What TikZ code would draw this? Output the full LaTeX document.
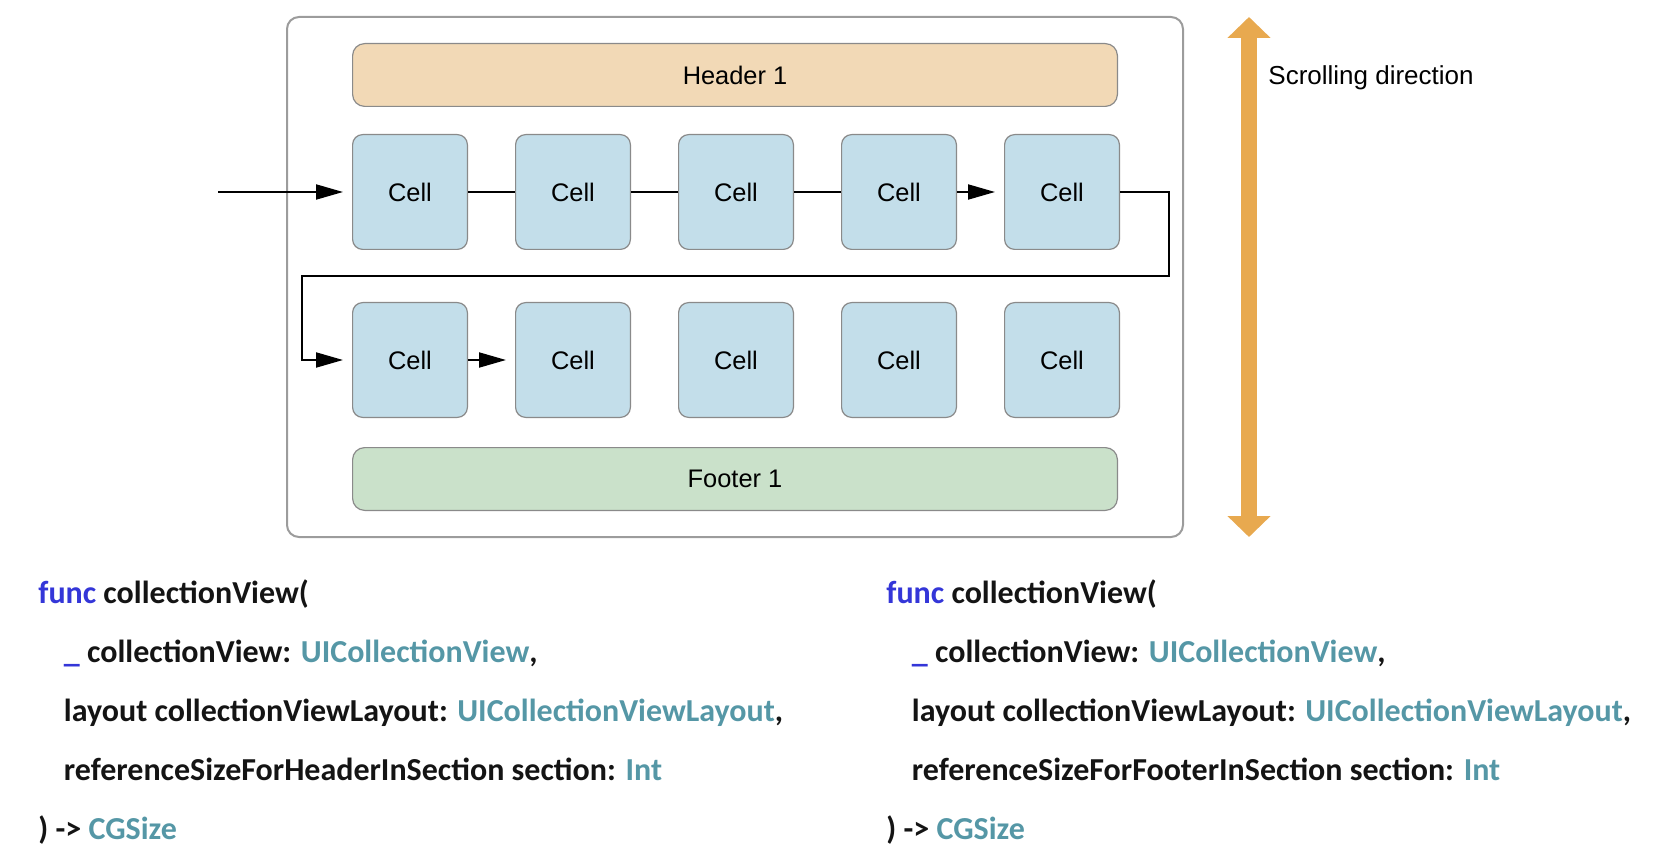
\documentclass[tikz,border=0pt]{standalone}
\usepackage{fontspec}
\setmainfont{Liberation Sans}
\newfontfamily\codefont{Carlito}
\usepackage{xcolor}
\usetikzlibrary{positioning,arrows.meta,calc,fit}

\definecolor{headerfill}{HTML}{F2D9B6}
\definecolor{cellfill}{HTML}{C3DEEA}
\definecolor{footerfill}{HTML}{CAE1CA}
\definecolor{boxline}{HTML}{8A8A8A}
\definecolor{scrollorange}{HTML}{E8A94F}
\definecolor{swiftblue}{HTML}{3436D8}
\definecolor{swiftteal}{HTML}{5597A6}
\newcommand{\kw}[1]{\textcolor{swiftblue}{#1}}
\newcommand{\ty}[1]{\textcolor{swiftteal}{#1}}

\begin{document}
\begin{tikzpicture}[
  x=0.5pt, y=-0.5pt, >={Triangle[length=13.5pt,width=7.5pt]},
  cell/.style={draw=boxline, line width=0.6pt, fill=cellfill, rounded corners=5pt, minimum width=57.4pt,
      minimum height=57.4pt, inner sep=0pt, font=\fontsize{12.7}{15}\selectfont},
  band/.style={draw=boxline, line width=0.6pt, rounded corners=6pt, minimum width=382.4pt, minimum height=31.4pt,
      inner sep=0pt, font=\fontsize{12.7}{15}\selectfont},
  flow/.style={line width=1pt},
  into/.style={flow, ->, shorten >=4.5pt},
  code/.style={font=\codefont\bfseries\fontsize{16}{29.6}\selectfont, align=left, inner sep=0pt, anchor=north west, text=black!92},
]
  \useasboundingbox (0,0) rectangle (1666,866);

  % section: header, two rows of cells, footer
  \node (header) [band, fill=headerfill] at (735,75) {Header 1};
  \node (cell-1-1) [cell, below right=13.5pt and 0pt of header.south west] {Cell};
  \node (cell-1-2) [cell, right=23.5pt of cell-1-1] {Cell};
  \node (cell-1-3) [cell, right=23.5pt of cell-1-2] {Cell};
  \node (cell-1-4) [cell, right=23.5pt of cell-1-3] {Cell};
  \node (cell-1-5) [cell, right=23.5pt of cell-1-4] {Cell};
  \node (cell-2-1) [cell, below=26pt of cell-1-1] {Cell};
  \node (cell-2-2) [cell, right=23.5pt of cell-2-1] {Cell};
  \node (cell-2-3) [cell, right=23.5pt of cell-2-2] {Cell};
  \node (cell-2-4) [cell, right=23.5pt of cell-2-3] {Cell};
  \node (cell-2-5) [cell, right=23.5pt of cell-2-4] {Cell};
  \node (footer) [band, fill=footerfill, below right=14.5pt and 0pt of cell-2-1.south west] {Footer 1};
  \node (frame) [draw=boxline!85, line width=1pt, rounded corners=6pt, inner xsep=32.5pt, inner ysep=13pt, fit=(header) (footer)] {};

  % layout order
  \coordinate[left=67pt of cell-1-1.west] (entry);
  \draw[into] (entry) -- (cell-1-1);
  \draw[flow] (cell-1-1) -- (cell-1-2);
  \draw[flow] (cell-1-2) -- (cell-1-3);
  \draw[flow] (cell-1-3) -- (cell-1-4);
  \draw[into] (cell-1-4) -- (cell-1-5);
  \coordinate[right=24.5pt of cell-1-5.east] (wrap-top);
  \coordinate[left=25pt of cell-2-1.west] (wrap-bottom);
  \coordinate (row-gap) at ($(cell-1-1.south)!.5!(cell-2-1.north)$);
  \draw[into] (cell-1-5) -- (wrap-top) |- (row-gap -| wrap-bottom) -- (wrap-bottom) -- (cell-2-1);
  \draw[into] (cell-2-1) -- (cell-2-2);

  % scrolling
  \coordinate (scroll-top) at (1249,17);
  \coordinate (scroll-bottom) at (1249,537);
  \draw[scrollorange, line width=8pt, {Triangle[length=10.5pt,width=21pt]}-{Triangle[length=10.5pt,width=21pt]}] (scroll-top) -- (scroll-bottom);
  \node (scroll-label) [anchor=west, inner sep=0pt, font=\fontsize{13}{15}\selectfont] at (1268,78) {Scrolling direction};

  % delegate methods
  \node (code-header) [code] at (38,579) {\kw{func} collectionView(\\
    \hspace*{12.75pt}\kw{\_} collectionView: \ty{UICollectionView},\\
    \hspace*{12.75pt}layout collectionViewLayout: \ty{UICollectionViewLayout},\\
    \hspace*{12.75pt}referenceSizeForHeaderInSection section: \ty{Int}\\
    ) -> \ty{CGSize}};
  \node (code-footer) [code] at (886,579) {\kw{func} collectionView(\\
    \hspace*{12.75pt}\kw{\_} collectionView: \ty{UICollectionView},\\
    \hspace*{12.75pt}layout collectionViewLayout: \ty{UICollectionViewLayout},\\
    \hspace*{12.75pt}referenceSizeForFooterInSection section: \ty{Int}\\
    ) -> \ty{CGSize}};
\end{tikzpicture}
\end{document}
